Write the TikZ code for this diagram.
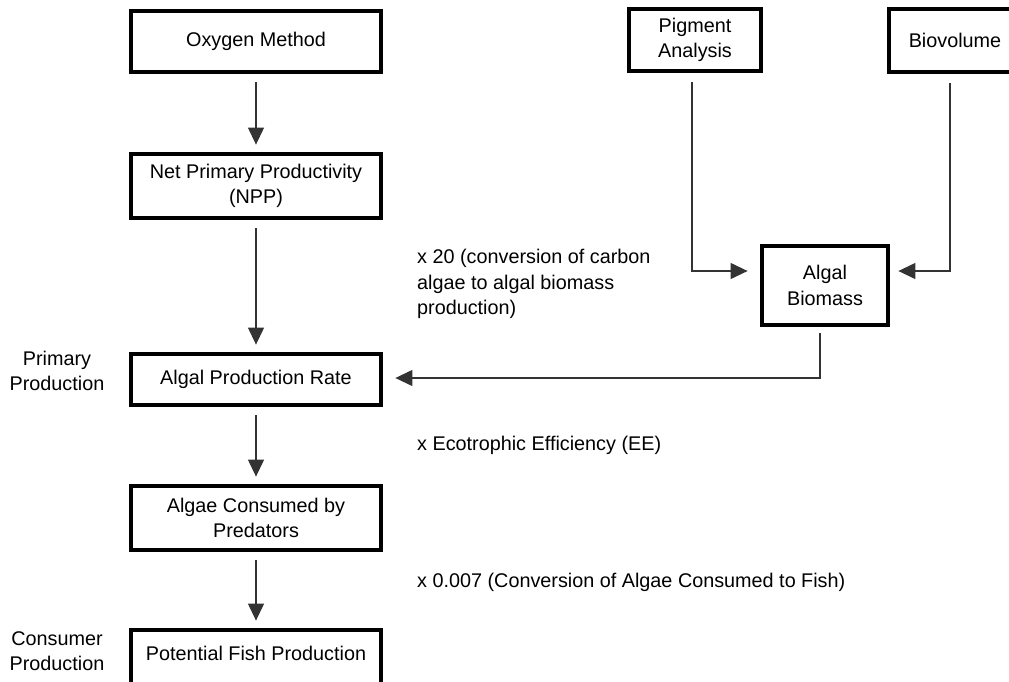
\documentclass[tikz,border=0pt]{standalone}
\usepackage{fontspec}
\setmainfont{Liberation Sans}
\usetikzlibrary{arrows.meta}
\newcommand{\diafs}{\fontsize{19.8}{25.5}\selectfont}
\begin{document}
\begin{tikzpicture}[x=1pt,y=-1pt,
  box/.style={draw, line width=4.8pt, inner sep=0pt, align=center, font=\diafs},
  lbl/.style={inner sep=0pt, font=\diafs},
  conn/.style={line width=1.2pt, draw=black!80, -{Triangle[length=17pt,width=16pt]}}]
\useasboundingbox (0,0) rectangle (1009,681);
\clip (0,0) rectangle (1009,681);

% main column
\node[box, minimum width=250pt, minimum height=61pt] (oxy) at (256,41.5) {Oxygen Method};
\node[box, minimum width=250pt, minimum height=64pt] (npp) at (256,186) {Net Primary Productivity\\(NPP)};
\node[box, minimum width=250pt, minimum height=51pt] (apr) at (256,379.5) {Algal Production Rate};
\node[box, minimum width=250pt, minimum height=64pt] (acp) at (256,518) {Algae Consumed by\\Predators};
\node[box, minimum width=250pt, minimum height=56pt, text height=14pt, text depth=10pt] (pfp) at (256,658) {Potential Fish Production};

% right side
\node[box, minimum width=132pt, minimum height=62pt] (pig) at (695,40) {Pigment\\Analysis};
\node[box, minimum width=132pt, minimum height=63pt] (bio) at (955,40.5) {Biovolume};
\node[box, minimum width=126pt, minimum height=79pt] (ab) at (825,285.5) {Algal\\Biomass};

% labels
\node[lbl, anchor=west, align=left] (l1) at (417,284) {x 20 (conversion of carbon\\algae to algal biomass\\production)};
\node[lbl, anchor=west, align=left] (l2) at (417,445) {x Ecotrophic Efficiency (EE)};
\node[lbl, anchor=west, align=left] (l3) at (417,582) {x 0.007 (Conversion of Algae Consumed to Fish)};
\node[lbl, align=center] (pp) at (57,371) {Primary\\Production};
\node[lbl, align=center] (cp) at (57,651) {Consumer\\Production};

% connectors
\draw[conn, shorten <=8pt, shorten >=7pt] (oxy) -- (npp);
\draw[conn, shorten <=8pt, shorten >=7pt] (npp) -- (apr);
\draw[conn, shorten <=8pt, shorten >=7pt] (apr) -- (acp);
\draw[conn, shorten <=8pt, shorten >=7pt] (acp) -- (pfp);
\draw[conn, shorten <=9pt] ([xshift=-3pt]pig.south) |- ([xshift=-12pt,yshift=14.5pt]ab.west);
\draw[conn, shorten <=9pt] ([xshift=-5pt]bio.south) |- ([xshift=8pt,yshift=14.5pt]ab.east);
\draw[conn, shorten <=6pt] ([xshift=-5pt]ab.south) |- ([xshift=12pt,yshift=1.5pt]apr.east);
\end{tikzpicture}
\end{document}
